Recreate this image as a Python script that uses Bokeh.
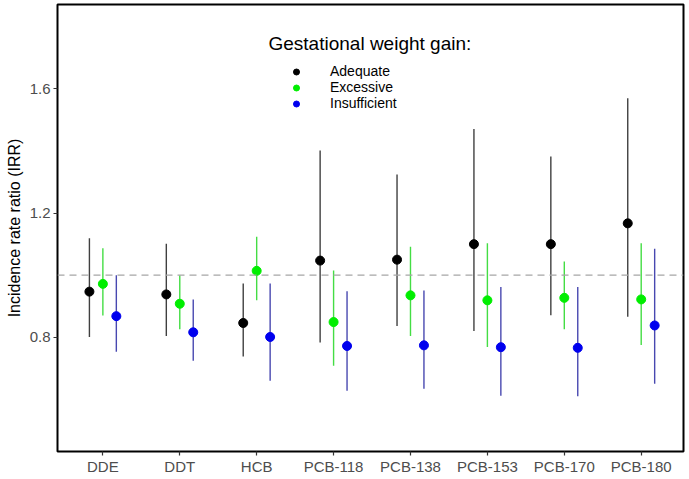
from bokeh.plotting import figure
from bokeh.models import (ColumnDataSource, Range1d, FixedTicker, Span, Label,
                          Legend, LegendItem)
from bokeh.embed import file_html
from bokeh.resources import INLINE

# ---- data ----
categories = ["DDE", "DDT", "HCB", "PCB-118", "PCB-138", "PCB-153", "PCB-170", "PCB-180"]

adequate = [0.947, 0.938, 0.846, 1.047, 1.050, 1.100, 1.100, 1.167]
adequate_lo = [0.801, 0.804, 0.738, 0.783, 0.836, 0.820, 0.871, 0.866]
adequate_hi = [1.119, 1.101, 0.973, 1.402, 1.324, 1.471, 1.382, 1.570]

excessive = [0.972, 0.908, 1.014, 0.849, 0.935, 0.919, 0.927, 0.922]
excessive_lo = [0.870, 0.826, 0.919, 0.708, 0.804, 0.769, 0.826, 0.775]
excessive_hi = [1.087, 1.000, 1.124, 1.015, 1.092, 1.103, 1.044, 1.103]

insufficient = [0.868, 0.816, 0.801, 0.772, 0.774, 0.768, 0.766, 0.838]
insufficient_lo = [0.753, 0.724, 0.660, 0.628, 0.634, 0.612, 0.610, 0.650]
insufficient_hi = [1.000, 0.922, 0.973, 0.948, 0.951, 0.962, 0.962, 1.085]

series_names = ["Adequate", "Excessive", "Insufficient"]
y_ticks = [0.8, 1.2, 1.6]
reference_value = 1.0

# ---- styling ----
FONT = "Liberation Sans"
point_colors = ["#000000", "#00ee00", "#0000ee"]
line_colors = ["#404040", "#44dd44", "#4848b0"]
offsets = [-0.175, 0.0, 0.175]

p = figure(width=687, height=477, output_backend="svg", toolbar_location=None,
           x_range=Range1d(0.41, 8.55), y_range=Range1d(0.432, 1.872),
           min_border_left=57, min_border_right=4, min_border_top=4,
           min_border_bottom=22)
p.background_fill_color = "white"
p.border_fill_color = "white"
p.outline_line_color = "black"
p.outline_line_width = 2
p.xgrid.visible = False
p.ygrid.visible = False

positions = list(range(1, len(categories) + 1))

p.add_layout(Span(location=reference_value, dimension="width",
                  line_color="#a6a6a6", line_dash="7 5", line_width=1.3))

data = [(adequate, adequate_lo, adequate_hi),
        (excessive, excessive_lo, excessive_hi),
        (insufficient, insufficient_lo, insufficient_hi)]

legend_items = []
for (est, lo, hi), name, pc, lc, off in zip(data, series_names, point_colors, line_colors, offsets):
    src = ColumnDataSource(dict(x=[v + off for v in positions], y=est, lo=lo, hi=hi))
    p.segment(x0="x", y0="lo", x1="x", y1="hi", source=src,
              line_color=lc, line_width=1.4)
    r = p.scatter(x="x", y="y", source=src, size=9,
                  fill_color=pc, line_color=pc)
    legend_items.append(LegendItem(label=name, renderers=[r]))

# axes
p.xaxis.ticker = FixedTicker(ticks=positions)
p.xaxis.major_label_overrides = {i: c for i, c in zip(positions, categories)}
p.yaxis.ticker = FixedTicker(ticks=y_ticks)
for ax in (p.xaxis, p.yaxis):
    ax.axis_line_color = None
    ax.major_tick_line_color = "#333333"
    ax.major_tick_line_width = 1.2
    ax.major_tick_out = 4
    ax.major_tick_in = 0
    ax.minor_tick_line_color = None
    ax.major_label_text_font = FONT
    ax.major_label_text_font_size = "15px"
    ax.major_label_text_color = "#4d4d4d"
p.xaxis.major_label_standoff = 2
p.yaxis.major_label_standoff = 3
p.yaxis.axis_label = "Incidence rate ratio (IRR)"
p.yaxis.axis_label_text_font = FONT
p.yaxis.axis_label_text_font_size = "16px"
p.yaxis.axis_label_text_font_style = "normal"
p.yaxis.axis_label_text_color = "black"
p.yaxis.axis_label_standoff = 4

# legend
legend = Legend(items=legend_items, location=(231, 340),
                background_fill_alpha=0, border_line_color=None,
                padding=0, margin=0, spacing=-2,
                glyph_width=16, glyph_height=15, label_height=15,
                label_standoff=26,
                label_text_font=FONT, label_text_font_size="14px",
                label_text_color="black")
p.add_layout(legend)

p.add_layout(Label(x=211, y=408, x_units="screen", y_units="screen",
                   text="Gestational weight gain:", text_font=FONT,
                   text_font_size="19px", text_color="black",
                   text_baseline="middle", text_align="left"))

open("out.html", "w").write(file_html(p, INLINE))
